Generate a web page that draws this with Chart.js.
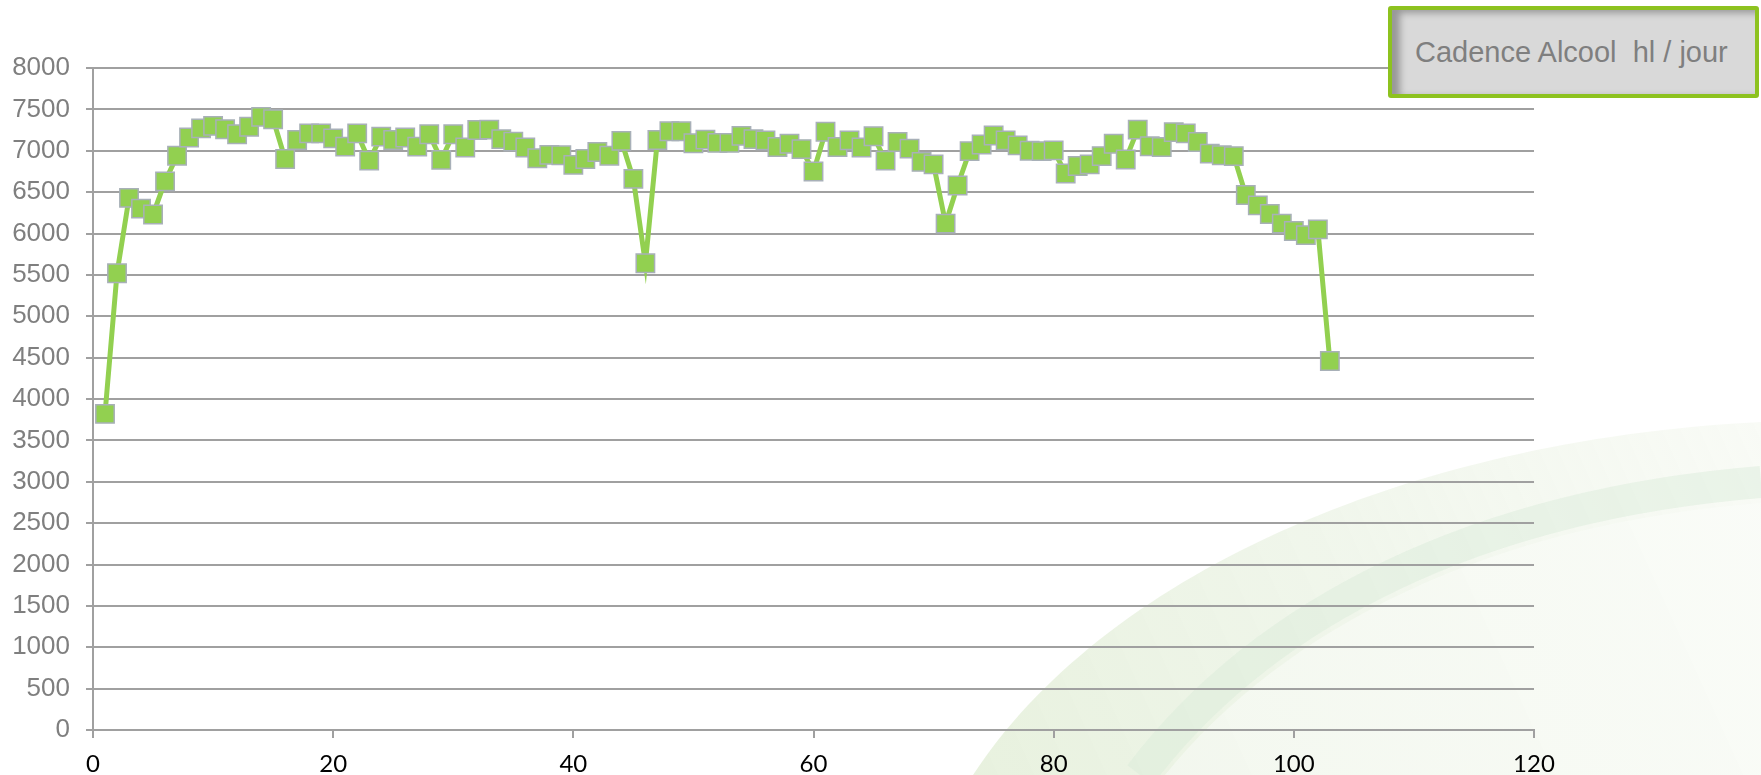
<!DOCTYPE html>
<html>
<head>
<meta charset="utf-8">
<script src="https://cdn.jsdelivr.net/npm/chart.js@4.4.0/dist/chart.umd.min.js"></script>
<style>
  body { margin: 0; background: #fff; }
  #wrap { position: relative; width: 1761px; height: 775px; overflow: hidden; }
  #Chart { position: absolute; left: 0; top: 0; }
  .tag {
    position: absolute; left: 1388px; top: 6px; width: 371px; height: 92px;
    box-sizing: border-box; border: 4px solid #8dc21f; border-radius: 3px;
    background: #d9d9d9; box-shadow: inset 8px 3px 7px rgba(0,0,0,0.3);
    font-family: "Liberation Sans", Arial, sans-serif; font-size: 29px; color: #7f7f7f;
    white-space: pre; line-height: 84px; padding-left: 23px;
  }
</style>
</head>
<body>
<div id="wrap">
  <canvas id="Chart" width="1761" height="775"></canvas>
  <div class="tag">Cadence Alcool  hl / jour</div>
</div>
<script>
// daily alcohol output, hl / day
const cadence = [
  3820, 5520, 6430, 6300, 6230, 6630, 6940, 7160, 7270, 7300,
  7260, 7200, 7290, 7410, 7380, 6900, 7130, 7210, 7210, 7150,
  7050, 7210, 6880, 7170, 7130, 7160, 7050, 7200, 6890, 7200,
  7040, 7250, 7255, 7140, 7110, 7040, 6910, 6950, 6945, 6830,
  6900, 6985, 6940, 7120, 6660, 5640, 7130, 7235, 7235, 7090,
  7135, 7095, 7095, 7180, 7140, 7125, 7045, 7085, 7020, 6750,
  7230, 7045, 7125, 7040, 7175, 6880, 7105, 7025, 6865, 6835,
  6120, 6580, 6995, 7075, 7185, 7125, 7065, 7000, 6995, 7005,
  6725, 6815, 6835, 6935, 7085, 6895, 7255, 7055, 7045, 7225,
  7210, 7105, 6965, 6945, 6935, 6465, 6340, 6235, 6120, 6030,
  5980, 6050, 4460
];
const days = cadence.map((v, i) => i + 1);

const xRange = [0, 120];
const xStep = 20;
const yRange = [0, 8000];
const yStep = 500;

const points = days.map((d, i) => ({ x: d, y: cadence[i] }));

// pale green swoosh behind the plot
const swoosh = {
  id: 'swoosh',
  beforeDraw(chart) {
    const ctx = chart.ctx;
    ctx.save();
    let g = ctx.createLinearGradient(980, 775, 1761, 420);
    g.addColorStop(0, 'rgba(228,239,217,0.85)');
    g.addColorStop(0.5, 'rgba(237,244,231,0.8)');
    g.addColorStop(1, 'rgba(246,249,242,0.7)');
    ctx.beginPath();
    ctx.moveTo(973, 775);
    ctx.bezierCurveTo(1100, 580, 1400, 440, 1761, 422);
    ctx.lineTo(1761, 775);
    ctx.closePath();
    ctx.fillStyle = g;
    ctx.fill();

    // inner band
    ctx.beginPath();
    ctx.moveTo(1140, 775);
    ctx.bezierCurveTo(1265, 610, 1480, 505, 1761, 482);
    ctx.lineWidth = 32;
    ctx.strokeStyle = 'rgba(218,234,218,0.45)';
    ctx.stroke();

    // lighter area right of the band
    let g2 = ctx.createLinearGradient(1200, 775, 1761, 500);
    g2.addColorStop(0, 'rgba(244,248,240,0.9)');
    g2.addColorStop(1, 'rgba(250,252,248,0.9)');
    ctx.beginPath();
    ctx.moveTo(1165, 775);
    ctx.bezierCurveTo(1285, 627, 1490, 524, 1761, 503);
    ctx.lineTo(1761, 775);
    ctx.closePath();
    ctx.fillStyle = g2;
    ctx.fill();
    ctx.restore();
  }
};

const config = {
  type: 'line',
  data: {
    datasets: [{
      label: 'Cadence Alcool hl / jour',
      data: points,
      borderColor: '#92d050',
      borderWidth: 5,
      backgroundColor: '#92d050',
      pointStyle: 'rect',
      pointRadius: 13,
      pointBorderColor: '#a8b0b8',
      pointBorderWidth: 1.5,
      pointBackgroundColor: '#92d050',
      tension: 0
    }]
  },
  options: {
    responsive: false,
    animation: false,
    events: [],
    layout: { padding: { left: 0, right: 227, top: 68, bottom: 0 } },
    scales: {
      x: {
        type: 'linear',
        min: xRange[0],
        max: xRange[1],
        afterFit(scale) { scale.height = 45; },
        ticks: {
          stepSize: xStep,
          padding: 12,
          color: '#000',
          font: { family: 'Lato', size: 24 }
        },
        grid: {
          drawOnChartArea: false,
          drawTicks: true,
          tickLength: 8,
          color: '#a0a0a0',
          lineWidth: 2
        },
        border: { display: true, color: '#a0a0a0', width: 2 }
      },
      y: {
        min: yRange[0],
        max: yRange[1],
        afterFit(scale) { scale.width = 93; },
        ticks: {
          stepSize: yStep,
          padding: 16,
          color: '#7f7f7f',
          font: { family: 'Liberation Sans', size: 26 },
          callback: (v) => String(v)
        },
        grid: {
          color: '#a0a0a0',
          lineWidth: 2,
          tickLength: 7
        },
        border: { display: true, color: '#a0a0a0', width: 2 }
      }
    },
    plugins: {
      legend: { display: false },
      tooltip: { enabled: false }
    }
  },
  plugins: [swoosh]
};

const myChart = new Chart(document.getElementById('Chart'), config);
</script>
</body>
</html>
